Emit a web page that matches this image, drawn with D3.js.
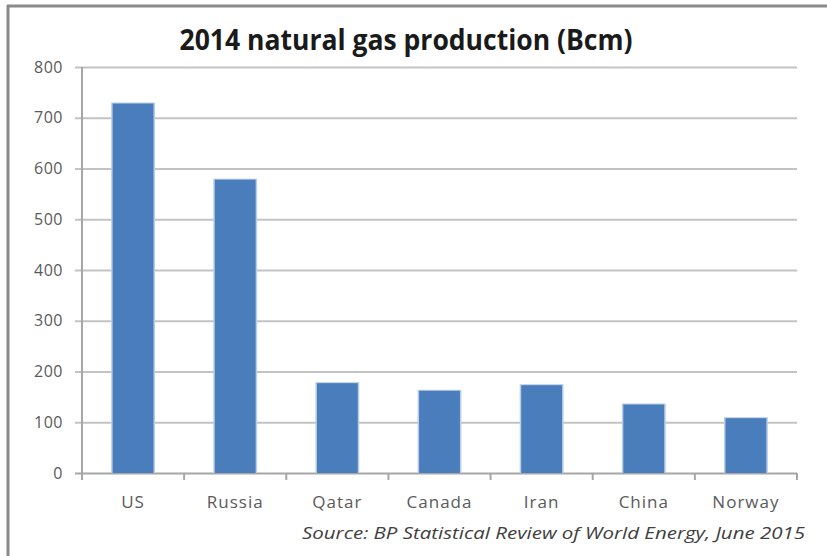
<!DOCTYPE html>
<html>
<head>
<meta charset="utf-8">
<script src="https://cdn.jsdelivr.net/npm/d3@7"></script>
<style>
  html, body { margin: 0; padding: 0; background: #fff; }
  svg { display: block; }
</style>
</head>
<body>
<svg id="chart" width="827" height="556"></svg>
<script>
// 2014 natural gas production by country, billion cubic metres
const categories = ["US", "Russia", "Qatar", "Canada", "Iran", "China", "Norway"];
const production = [728, 578, 177, 162, 173, 135, 108];
const yTicks = [0, 100, 200, 300, 400, 500, 600, 700, 800];
const titleText = "2014 natural gas production (Bcm)";
const sourceText = "Source: BP Statistical Review of World Energy, June 2015";

const svg = d3.select("#chart");
const W = 827, H = 556;
const plot = { left: 82, right: 797, top: 67, bottom: 473 };

svg.append("rect").attr("width", W).attr("height", H).attr("fill", "#fff");

// frame edges along the top and left
svg.append("line").attr("x1", 7).attr("x2", W).attr("y1", 6).attr("y2", 6)
  .attr("stroke", "#8a8a8a").attr("stroke-width", 3);
svg.append("line").attr("x1", 8).attr("x2", 8).attr("y1", 5).attr("y2", H)
  .attr("stroke", "#8a8a8a").attr("stroke-width", 3);

const x = d3.scaleBand().domain(categories).range([plot.left, plot.right]).padding(0);
const y = d3.scaleLinear().domain([0, 800]).range([plot.bottom, plot.top]);

const font = "'Open Sans', 'Noto Sans', sans-serif";

// horizontal gridlines with value labels
const tickLen = 7;
const yAxis = d3.axisLeft(y)
  .tickValues(yTicks)
  .tickSize(plot.right - plot.left + tickLen)
  .tickPadding(12)
  .tickFormat(d3.format("d"));

const gy = svg.append("g")
  .attr("transform", `translate(${plot.right},0)`)
  .call(yAxis);
gy.select(".domain").remove();
gy.selectAll(".tick line")
  .attr("stroke", d => d === 0 ? "#a6a6a6" : "#c3c3c3")
  .attr("stroke-width", 2);
gy.selectAll(".tick text")
  .attr("fill", "#5a5a5a")
  .style("font-family", font)
  .style("font-size", "16px")
  .style("letter-spacing", "0.5px");

// vertical axis line
svg.append("line")
  .attr("x1", plot.left).attr("x2", plot.left)
  .attr("y1", plot.top).attr("y2", plot.bottom + tickLen)
  .attr("stroke", "#a6a6a6").attr("stroke-width", 2);

// category boundary tick marks on the horizontal axis
const boundaries = categories.slice(1).map(c => x(c)).concat([x.range()[1]]);
svg.append("g").selectAll("line")
  .data(boundaries)
  .join("line")
  .attr("x1", d => d).attr("x2", d => d)
  .attr("y1", plot.bottom).attr("y2", plot.bottom + tickLen)
  .attr("stroke", "#a6a6a6").attr("stroke-width", 2);

// bars: 150% gap width, so each bar is 40% of its band
const barW = x.bandwidth() * 0.4;
const barX = c => x(c) + (x.bandwidth() - barW) / 2;
const data = categories.map((c, i) => ({ c, v: production[i] }));

svg.append("g").selectAll("rect")
  .data(data)
  .join("rect")
  .attr("x", d => barX(d.c) - 1.5)
  .attr("y", d => y(d.v) - 1)
  .attr("width", barW + 3)
  .attr("height", d => y(0) - y(d.v) + 1)
  .attr("fill", "#b9cde6");

svg.append("g").selectAll("rect")
  .data(data)
  .join("rect")
  .attr("x", d => barX(d.c))
  .attr("y", d => y(d.v))
  .attr("width", barW)
  .attr("height", d => y(0) - y(d.v))
  .attr("fill", "#4a7dbc");

// category labels
const xAxis = d3.axisBottom(x).tickSize(0).tickPadding(0);
const gx = svg.append("g")
  .attr("transform", `translate(0,${plot.bottom})`)
  .call(xAxis);
gx.select(".domain").remove();
gx.selectAll(".tick text")
  .attr("y", 35)
  .attr("dy", 0)
  .attr("fill", "#5a5a5a")
  .style("font-family", font)
  .style("font-size", "17px")
  .style("letter-spacing", "1px");

// title
svg.append("text")
  .attr("x", 406).attr("y", 50)
  .attr("text-anchor", "middle")
  .attr("textLength", 453)
  .attr("lengthAdjust", "spacingAndGlyphs")
  .attr("fill", "#1a1a1a")
  .style("font-family", font)
  .style("font-weight", "bold")
  .style("font-size", "28px")
  .text(titleText);

// source note
svg.append("text")
  .attr("x", 805).attr("y", 539)
  .attr("text-anchor", "end")
  .attr("textLength", 503)
  .attr("lengthAdjust", "spacingAndGlyphs")
  .attr("fill", "#404040")
  .style("font-family", font)
  .style("font-style", "italic")
  .style("font-size", "17px")
  .text(sourceText);
</script>
</body>
</html>
